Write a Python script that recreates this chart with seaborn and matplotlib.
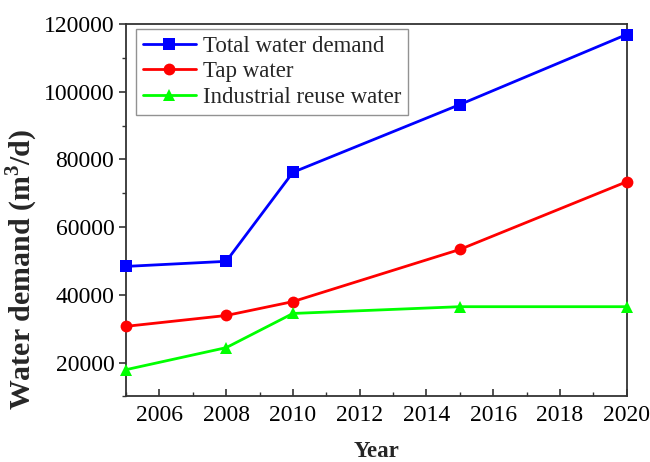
import matplotlib
matplotlib.use("Agg")
import matplotlib.pyplot as plt
from matplotlib.ticker import MultipleLocator
import seaborn as sns
import pandas as pd

years = [2005, 2008, 2010, 2015, 2020]
total = [48400, 49900, 76200, 96200, 116900]
tap = [30700, 33900, 38000, 53400, 73400]
industrial = [17900, 24400, 34500, 36500, 36500]
series_names = ["Total water demand", "Tap water", "Industrial reuse water"]

df = pd.DataFrame({"Year": years * 3,
                   "Value": total + tap + industrial,
                   "Series": [series_names[0]] * 5 + [series_names[1]] * 5 + [series_names[2]] * 5})

sns.set_theme(style="ticks")
plt.rcParams['font.family'] = ['Liberation Serif', 'DejaVu Serif']
plt.rcParams['mathtext.fontset'] = 'custom'
plt.rcParams['mathtext.rm'] = 'Liberation Serif'
plt.rcParams['mathtext.bf'] = 'Liberation Serif:bold'

fig, ax = plt.subplots(figsize=(6.5, 4.62), dpi=100)
fig.subplots_adjust(left=0.194, right=0.964, top=0.948, bottom=0.142)

colors = ["#0000ff", "#ff0000", "#00ff00"]
markers = ["s", "o", "^"]
sns.lineplot(data=df, x="Year", y="Value", hue="Series", style="Series",
             palette=colors, markers=markers, dashes=False, linewidth=2,
             markersize=8.5, markeredgewidth=0, ax=ax, clip_on=False, zorder=5)

ax.set_xlim(2005, 2020)
ax.set_ylim(10000, 120000)
ax.xaxis.set_minor_locator(MultipleLocator(1))
ax.yaxis.set_major_locator(MultipleLocator(20000))
ax.yaxis.set_minor_locator(MultipleLocator(10000))
ax.set_xticks([2006, 2008, 2010, 2012, 2014, 2016, 2018, 2020])
ax.tick_params(axis='x', which='major', direction='in', length=5, width=1.2, labelsize=17, pad=6, colors='#333333', labelcolor='black')
ax.tick_params(axis='x', which='minor', direction='in', length=3, width=1.0, colors='#333333')
ax.tick_params(axis='y', which='major', direction='out', length=5, width=1.2, labelsize=17, colors='#333333', labelcolor='black')
ax.tick_params(axis='y', which='minor', direction='out', length=3, width=1.0, colors='#333333')
for s in ax.spines.values():
    s.set_linewidth(1.3)
    s.set_color('#333333')
    s.set_zorder(2)

ax.set_xlabel("Year", fontsize=16.5, fontweight='bold', labelpad=11)
ax.set_ylabel(r"Water demand (m$^\mathbf{3}$/d)", fontsize=21.5, fontweight='bold')
ax.yaxis.set_label_coords(-0.172, 0.34)

leg = ax.legend(loc='upper left', bbox_to_anchor=(0.02, 0.987), borderaxespad=0, fontsize=16.5,
                frameon=True, fancybox=False, edgecolor='#777777',
                handlelength=2.3, handletextpad=0.3, borderpad=0.3, labelspacing=0.2)
leg.get_frame().set_linewidth(1.0)
leg.set_zorder(10)

fig.savefig("out.png", dpi=100)
